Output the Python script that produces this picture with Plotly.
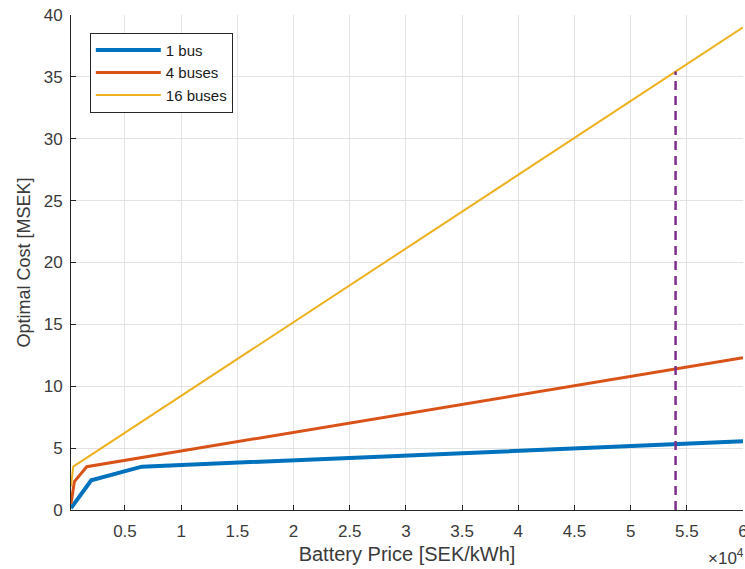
import numpy as np
import plotly.graph_objects as go

# Battery price [SEK/kWh] and optimal cost [MSEK] for each fleet size
price_1bus = [200, 2000, 6500, 60000]
cost_1bus = [0.15, 2.4, 3.5, 5.55]

price_4buses = [200, 500, 1600, 60000]
cost_4buses = [0.5, 2.3, 3.5, 12.3]

price_16buses = [200, 400, 60000]
cost_16buses = [1.9, 3.5, 39.0]

# Selected battery price marker
selected_price = 54000
selected_cost = float(np.interp(selected_price, price_16buses, cost_16buses))

x_ticks = [5000 * k for k in range(1, 13)]
x_tick_text = ["0.5", "1", "1.5", "2", "2.5", "3", "3.5", "4", "4.5", "5", "5.5", "6"]
y_ticks = list(range(0, 41, 5))

FONT = "Liberation Sans, Arial, Helvetica, sans-serif"
TXT = "#3a3a3a"

fig = go.Figure()
fig.add_trace(go.Scatter(x=price_1bus, y=cost_1bus, mode="lines", name="1 bus",
                         line=dict(color="#0072BD", width=4)))
fig.add_trace(go.Scatter(x=price_4buses, y=cost_4buses, mode="lines", name="4 buses",
                         line=dict(color="#D95319", width=3)))
fig.add_trace(go.Scatter(x=price_16buses, y=cost_16buses, mode="lines", name="16 buses",
                         line=dict(color="#EDB120", width=2)))
fig.add_trace(go.Scatter(x=[selected_price, selected_price], y=[0, selected_cost],
                         mode="lines", showlegend=False,
                         line=dict(color="#7E2F8E", width=2.5, dash="9px,6px")))

axis_common = dict(
    showgrid=True, gridcolor="#e3e3e3", gridwidth=1,
    showline=True, linecolor="#262626", linewidth=1,
    ticks="inside", ticklen=5, tickcolor="#262626",
    tickfont=dict(family=FONT, size=17, color=TXT),
    zeroline=False, mirror=False, ticklabeloverflow="allow",
    automargin=False,
)

fig.update_xaxes(range=[200, 60000], tickvals=x_ticks, ticktext=x_tick_text,
                 ticklabelstandoff=6,
                 title=dict(text="Battery Price [SEK/kWh]", font=dict(family=FONT, size=20, color=TXT),
                            standoff=6),
                 **axis_common)
fig.update_yaxes(range=[0, 40], tickvals=y_ticks, ticklabelstandoff=4,
                 title=dict(text="Optimal Cost [MSEK]", font=dict(family=FONT, size=18, color=TXT),
                            standoff=8),
                 **axis_common)

fig.add_annotation(text="\u00d710<sup>4</sup>", xref="paper", yref="paper",
                   x=1.004, y=-0.068, xanchor="right", yanchor="top", showarrow=False,
                   font=dict(family=FONT, size=17, color=TXT))

fig.update_layout(
    width=745, height=569,
    margin=dict(l=71, r=2, t=15, b=59),
    plot_bgcolor="white", paper_bgcolor="white",
    legend=dict(x=0.028, y=0.964, xanchor="left", yanchor="top",
                bgcolor="white", bordercolor="#262626", borderwidth=1,
                font=dict(family=FONT, size=15, color="#1a1a1a"),
                tracegroupgap=0, itemwidth=65),
)

fig.write_html("out.html")
